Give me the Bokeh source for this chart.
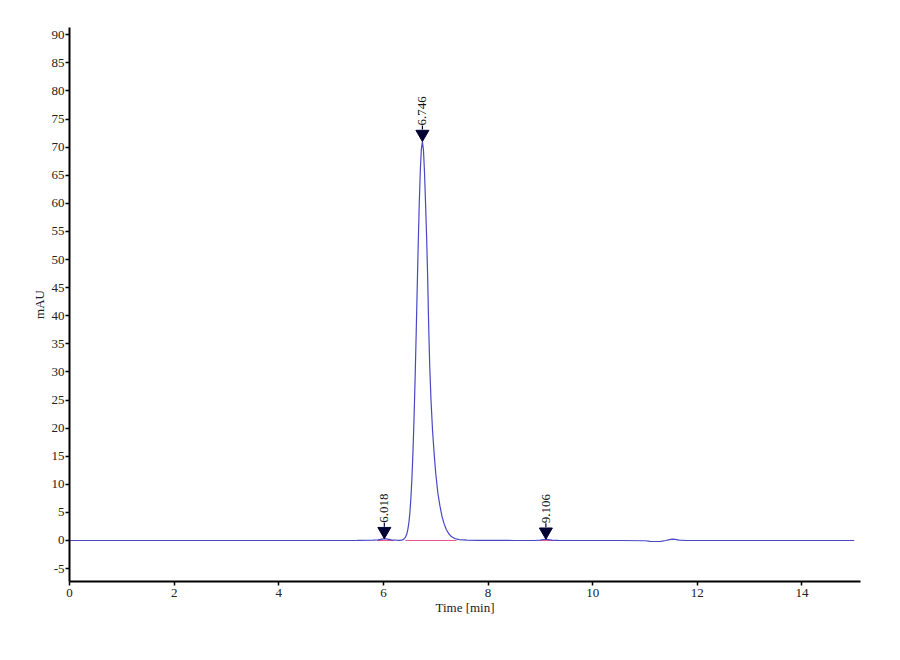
import math
from bokeh.plotting import figure
from bokeh.models import FixedTicker, Range1d, ColumnDataSource, CustomJSTickFormatter
from bokeh.core.properties import value
from bokeh.embed import file_html
from bokeh.resources import INLINE

# ---- data ----
time_min = [0.0, 2.0, 4.0, 5.0, 5.5, 5.8, 5.9, 5.95, 6.018, 6.08, 6.15, 6.25, 6.3,
            6.346, 6.386, 6.416, 6.446, 6.466, 6.486, 6.506, 6.526, 6.546, 6.566,
            6.586, 6.606, 6.626, 6.646, 6.666, 6.686, 6.706, 6.726, 6.746,
            6.766, 6.786, 6.806, 6.826, 6.846, 6.866, 6.886, 6.91, 6.94, 6.97,
            7.0, 7.04, 7.08, 7.12, 7.16, 7.2, 7.25, 7.3, 7.36, 7.45, 7.6, 7.8,
            8.5, 8.9, 9.0, 9.06, 9.106, 9.16, 9.22, 9.35, 10.5, 11.0, 11.1,
            11.2, 11.3, 11.4, 11.47, 11.52, 11.58, 11.65, 11.8, 13.0, 15.0]
absorbance_mau = [0.0, 0.0, 0.0, 0.0, 0.02, 0.05, 0.1, 0.2, 0.32, 0.25, 0.1, 0.05, 0.03,
                  0.05, 0.2, 0.5, 1.1, 1.9, 3.1, 4.9, 7.6, 11.2, 15.9,
                  21.8, 28.7, 36.5, 44.7, 52.8, 60.1, 65.9, 69.7, 71.0,
                  69.5, 65.5, 60.0, 54.0, 47.0, 38.0, 31.0, 25.0, 19.5, 15.5,
                  12.0, 8.5, 6.2, 4.3, 3.0, 2.0, 1.2, 0.7, 0.35, 0.15, 0.05, 0.02,
                  0.0, 0.0, 0.08, 0.18, 0.22, 0.15, 0.08, 0.02, 0.0, -0.05, -0.15,
                  -0.18, -0.15, 0.0, 0.15, 0.25, 0.2, 0.05, 0.0, 0.0, 0.0]

peak_times = [6.018, 6.746, 9.106]
peak_heights = [0.32, 71.0, 0.22]
peak_labels = ["6.018", "6.746", "9.106"]
peak_starts = [5.88, 6.42, 8.98]
peak_ends = [6.2, 7.4, 9.3]

x_ticks = [0, 2, 4, 6, 8, 10, 12, 14]
y_ticks = [-5, 0, 5, 10, 15, 20, 25, 30, 35, 40, 45, 50, 55, 60, 65, 70, 75, 80, 85, 90]

FONT = "Liberation Serif"

p = figure(width=878, height=648, output_backend="svg", toolbar_location=None,
           x_range=Range1d(0, 15.12), y_range=Range1d(-7.3, 91.3),
           min_border_left=69, min_border_right=18, min_border_top=27, min_border_bottom=67)
p.outline_line_color = None
p.grid.visible = False
p.background_fill_color = "white"
p.border_fill_color = "white"

for ax in (p.xaxis[0], p.yaxis[0]):
    ax.axis_line_color = "black"
    ax.axis_line_width = 2
    ax.major_tick_line_color = "black"
    ax.major_tick_line_width = 1.5
    ax.major_tick_out = 4
    ax.major_tick_in = 0
    ax.minor_tick_line_color = None
    ax.major_label_text_font = FONT
    ax.major_label_text_font_size = "13px"
    ax.major_label_text_color = "#222222"
    ax.axis_label_text_font = FONT
    ax.axis_label_text_font_size = "13px"
    ax.axis_label_text_font_style = "normal"
    ax.axis_label_text_color = "#222222"
    ax.formatter = CustomJSTickFormatter(code="return String(tick);")

p.xaxis.ticker = FixedTicker(ticks=x_ticks)
p.yaxis.ticker = FixedTicker(ticks=y_ticks)
p.xaxis.axis_label = "Time [min]"
p.yaxis.axis_label = "mAU"
p.xaxis.major_label_standoff = 3
p.xaxis.axis_label_standoff = 0
p.yaxis.major_label_standoff = 1
p.yaxis.axis_label_standoff = 2

# integration baselines
p.segment(x0=peak_starts, y0=[0] * 3, x1=peak_ends, y1=[0] * 3,
          line_color="#e8508a", line_width=1)

# chromatogram trace
p.line(time_min, absorbance_mau, line_color="#4848c4", line_width=1.2)

# peak markers: arrow heads, short stems, rotated retention-time labels
unit = (91.3 + 7.3) / (581 - 27)  # data units per pixel
head_y = [h + 7.5 * unit for h in peak_heights]
stem_y0 = [h + 12 * unit for h in peak_heights]
stem_y1 = [h + 16 * unit for h in peak_heights]
p.segment(x0=peak_times, y0=stem_y0, x1=peak_times, y1=stem_y1,
          line_color="#000033", line_width=1.2)
p.scatter(peak_times, head_y, marker="inverted_triangle", size=13,
          fill_color="#000033", line_color="#000033")
src = ColumnDataSource(dict(x=peak_times, y=peak_heights, t=peak_labels))
p.text(x="x", y="y", text="t", source=src, angle=math.pi / 2,
       text_align="left", text_baseline="middle", y_offset=-16,
       text_font=value(FONT), text_font_size="13px", text_color="#111111")

open("out.html", "w").write(file_html(p, INLINE))
